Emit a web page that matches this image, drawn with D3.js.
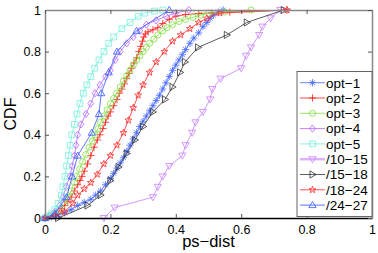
<!DOCTYPE html>
<html>
<head>
<meta charset="utf-8">
<script src="https://cdn.jsdelivr.net/npm/d3@7"></script>
<style>
  body { margin: 0; background: #fff; }
  text { font-family: "Liberation Sans", Arial, sans-serif; }
</style>
</head>
<body>
<svg id="chart" width="378" height="253"></svg>
<script>
// axis ticks
var xTicks = [0, 0.2, 0.4, 0.6, 0.8, 1];
var yTicks = [0, 0.2, 0.4, 0.6, 0.8, 1];
var seriesNames = ["opt\u22121", "opt\u22122", "opt\u22123", "opt\u22124", "opt\u22125",
                   "/10\u221215", "/15\u221218", "/18\u221224", "/24\u221227"];

// CDF points, [ps-dist, CDF]
var opt1 = [[0,0],[0.02,0.005],[0.04,0.015],[0.06,0.025],[0.08,0.04],[0.1,0.06],[0.12,0.075],[0.14,0.09],[0.155,0.11],[0.17,0.13],[0.185,0.16],[0.2,0.19],[0.21,0.215],[0.22,0.24],[0.23,0.265],[0.24,0.29],[0.25,0.32],[0.26,0.35],[0.27,0.38],[0.28,0.41],[0.29,0.44],[0.3,0.465],[0.31,0.49],[0.32,0.515],[0.33,0.54],[0.34,0.565],[0.35,0.59],[0.36,0.62],[0.37,0.65],[0.38,0.68],[0.39,0.71],[0.4,0.735],[0.41,0.76],[0.42,0.785],[0.43,0.81],[0.443,0.84],[0.455,0.865],[0.47,0.89],[0.483,0.92],[0.495,0.94],[0.505,0.96],[0.515,0.975],[0.53,0.99],[0.545,1.0]];
var opt2 = [[0,0],[0.01,0.005],[0.02,0.01],[0.03,0.02],[0.04,0.03],[0.05,0.045],[0.06,0.06],[0.07,0.08],[0.08,0.1],[0.09,0.13],[0.1,0.16],[0.107,0.18],[0.113,0.2],[0.12,0.225],[0.13,0.26],[0.14,0.3],[0.15,0.34],[0.16,0.375],[0.168,0.4],[0.177,0.43],[0.185,0.46],[0.193,0.49],[0.2,0.51],[0.21,0.54],[0.22,0.57],[0.228,0.6],[0.235,0.62],[0.243,0.645],[0.25,0.67],[0.257,0.695],[0.265,0.72],[0.272,0.745],[0.28,0.77],[0.287,0.8],[0.293,0.825],[0.298,0.85],[0.302,0.87],[0.307,0.885],[0.315,0.895],[0.33,0.905],[0.345,0.915],[0.36,0.935],[0.38,0.955],[0.4,0.97],[0.43,0.978],[0.47,0.983],[0.51,0.986],[0.565,0.99],[0.74,1.0]];
var opt3 = [[0,0],[0.015,0.01],[0.03,0.02],[0.045,0.04],[0.06,0.07],[0.07,0.1],[0.08,0.13],[0.09,0.17],[0.097,0.2],[0.106,0.235],[0.115,0.27],[0.125,0.305],[0.135,0.34],[0.145,0.37],[0.153,0.4],[0.162,0.43],[0.17,0.46],[0.18,0.49],[0.19,0.52],[0.2,0.55],[0.21,0.575],[0.219,0.6],[0.23,0.63],[0.24,0.66],[0.25,0.685],[0.26,0.71],[0.27,0.735],[0.28,0.76],[0.29,0.78],[0.3,0.8],[0.31,0.82],[0.32,0.84],[0.333,0.86],[0.345,0.88],[0.36,0.9],[0.373,0.915],[0.39,0.93],[0.41,0.945],[0.43,0.955],[0.453,0.965],[0.475,0.975],[0.5,0.985],[0.55,0.99],[0.63,1.0]];
var opt4 = [[0,0],[0.015,0.01],[0.03,0.03],[0.045,0.06],[0.055,0.1],[0.065,0.15],[0.076,0.2],[0.083,0.25],[0.09,0.3],[0.095,0.35],[0.1,0.4],[0.11,0.45],[0.125,0.5],[0.14,0.55],[0.153,0.6],[0.168,0.64],[0.185,0.68],[0.2,0.71],[0.215,0.76],[0.23,0.8],[0.25,0.84],[0.27,0.87],[0.29,0.9],[0.31,0.93],[0.34,0.95],[0.37,0.97],[0.4,0.985],[0.44,1.0]];
var opt5 = [[0,0],[0.01,0.01],[0.02,0.02],[0.03,0.04],[0.04,0.07],[0.05,0.11],[0.055,0.15],[0.061,0.2],[0.066,0.25],[0.072,0.3],[0.077,0.35],[0.082,0.4],[0.09,0.45],[0.098,0.5],[0.107,0.55],[0.117,0.6],[0.128,0.64],[0.14,0.68],[0.152,0.72],[0.165,0.76],[0.18,0.8],[0.195,0.84],[0.21,0.87],[0.235,0.91],[0.26,0.94],[0.285,0.97],[0.305,0.985],[0.335,0.995],[0.36,1.0]];
var p1015 = [[0.18,0],[0.213,0.05],[0.33,0.1],[0.345,0.15],[0.36,0.2],[0.38,0.25],[0.42,0.3],[0.43,0.35],[0.45,0.41],[0.46,0.46],[0.483,0.51],[0.505,0.57],[0.512,0.62],[0.537,0.67],[0.6,0.72],[0.615,0.78],[0.63,0.82],[0.655,0.88],[0.665,0.92],[0.69,0.96],[0.72,1.0]];
var p1518 = [[0.04,0],[0.13,0.06],[0.17,0.11],[0.2,0.18],[0.225,0.245],[0.25,0.31],[0.275,0.375],[0.3,0.44],[0.33,0.51],[0.367,0.57],[0.39,0.63],[0.413,0.7],[0.428,0.75],[0.468,0.82],[0.556,0.88],[0.617,0.94],[0.73,1.0]];
var p1824 = [[0,0],[0.03,0.01],[0.06,0.03],[0.085,0.07],[0.1,0.11],[0.12,0.14],[0.14,0.17],[0.16,0.21],[0.18,0.26],[0.2,0.3],[0.22,0.35],[0.24,0.41],[0.255,0.47],[0.27,0.53],[0.285,0.59],[0.3,0.64],[0.32,0.7],[0.34,0.75],[0.365,0.8],[0.39,0.85],[0.415,0.88],[0.443,0.91],[0.47,0.94],[0.495,0.96],[0.535,0.985],[0.74,1.0]];
var p2427 = [[0,0],[0.03,0.02],[0.066,0.1],[0.083,0.2],[0.1,0.3],[0.143,0.41],[0.165,0.5],[0.172,0.6],[0.195,0.7],[0.22,0.8],[0.28,0.9],[0.38,1.0]];

var allSeries = [opt1, opt2, opt3, opt4, opt5, p1015, p1518, p1824, p2427];
var colors = ["#4466ff", "#ff1a1a", "#80e040", "#b366ff", "#70f0dc", "#c680ff", "#333333", "#ff2a2a", "#3355ff"];
var markers = ["asterisk", "plus", "circle", "diamond", "square", "triDown", "triRight", "star", "triUp"];

// marker shapes, drawn around 0,0
function markerPath(kind, r) {
    var p = d3.path();
    if (kind == "asterisk") {
        p.moveTo(-r, 0); p.lineTo(r, 0);
        p.moveTo(0, -r); p.lineTo(0, r);
        var k = r * 0.7;
        p.moveTo(-k, -k); p.lineTo(k, k);
        p.moveTo(-k, k); p.lineTo(k, -k);
        return p.toString();
    }
    if (kind == "plus") {
        p.moveTo(-r, 0); p.lineTo(r, 0);
        p.moveTo(0, -r); p.lineTo(0, r);
        return p.toString();
    }
    if (kind == "circle") {
        p.arc(0, 0, r * 0.85, 0, 2 * Math.PI);
        return p.toString();
    }
    if (kind == "diamond") {
        p.moveTo(0, -r); p.lineTo(r * 0.8, 0); p.lineTo(0, r); p.lineTo(-r * 0.8, 0); p.closePath();
        return p.toString();
    }
    if (kind == "square") {
        var s = r * 0.8;
        p.rect(-s, -s, 2 * s, 2 * s);
        return p.toString();
    }
    if (kind == "triDown") {
        p.moveTo(-r, -r * 0.7); p.lineTo(r, -r * 0.7); p.lineTo(0, r); p.closePath();
        return p.toString();
    }
    if (kind == "triUp") {
        p.moveTo(-r, r * 0.7); p.lineTo(r, r * 0.7); p.lineTo(0, -r); p.closePath();
        return p.toString();
    }
    if (kind == "triRight") {
        p.moveTo(-r * 0.7, -r); p.lineTo(-r * 0.7, r); p.lineTo(r, 0); p.closePath();
        return p.toString();
    }
    // star
    for (var i = 0; i < 10; i++) {
        var a = -Math.PI / 2 + i * Math.PI / 5;
        var rr = i % 2 == 0 ? r : r * 0.42;
        if (i == 0) p.moveTo(rr * Math.cos(a), rr * Math.sin(a));
        else p.lineTo(rr * Math.cos(a), rr * Math.sin(a));
    }
    p.closePath();
    return p.toString();
}

var svg = d3.select("#chart");
var plotL = 45, plotR = 372, plotT = 10, plotB = 218;

var x = d3.scaleLinear().domain([0, 1]).range([plotL, plotR]);
var y = d3.scaleLinear().domain([0, 1]).range([plotB, plotT]);

// curves
var line = d3.line().x(function(d) { return x(d[0]); }).y(function(d) { return y(d[1]); });
var plot = svg.append("g");
allSeries.forEach(function(data, i) {
    var g = plot.append("g");
    g.append("path")
        .attr("d", line(data))
        .attr("fill", "none")
        .attr("stroke", colors[i])
        .attr("stroke-width", 0.8);
    g.selectAll(".mk")
        .data(data)
        .enter().append("path")
        .attr("class", "mk")
        .attr("transform", function(d) { return "translate(" + x(d[0]) + "," + y(d[1]) + ")"; })
        .attr("d", markerPath(markers[i], 3.6))
        .attr("fill", "none")
        .attr("stroke", colors[i])
        .attr("stroke-width", 0.8);
});

// axes, matlab style box with inward ticks
var fmt = function(d) { return d3.format("")(d); };
var xAxis = svg.append("g").attr("transform", "translate(0," + plotB + ")")
    .call(d3.axisBottom(x).tickValues(xTicks).tickSizeInner(-4).tickSizeOuter(0).tickPadding(7).tickFormat(fmt));
var yAxis = svg.append("g").attr("transform", "translate(" + plotL + ",0)")
    .call(d3.axisLeft(y).tickValues(yTicks).tickSizeInner(-4).tickSizeOuter(0).tickPadding(4).tickFormat(fmt));
var xTop = svg.append("g").attr("transform", "translate(0," + plotT + ")")
    .call(d3.axisTop(x).tickValues(xTicks).tickSizeInner(-4).tickSizeOuter(0).tickFormat(""));
var yRight = svg.append("g").attr("transform", "translate(" + plotR + ",0)")
    .call(d3.axisRight(y).tickValues(yTicks).tickSizeInner(-4).tickSizeOuter(0).tickFormat(""));

[xAxis, yAxis, xTop, yRight].forEach(function(a) {
    a.selectAll("text").attr("font-size", 12.5).attr("fill", "#000")
        .style("font-family", "'Liberation Sans', Arial, sans-serif");
    a.selectAll(".tick line").attr("stroke", "#555");
});
yAxis.select(".domain").attr("stroke", "#888").attr("stroke-width", 1.5);
xTop.select(".domain").attr("stroke", "#888").attr("stroke-width", 1.5);
yRight.select(".domain").attr("stroke", "#888").attr("stroke-width", 1.5);
xAxis.select(".domain").attr("stroke", "#000").attr("stroke-width", 1.5);

// axis titles
svg.append("text")
    .attr("x", (plotL + plotR) / 2)
    .attr("y", 247)
    .attr("text-anchor", "middle")
    .attr("font-size", 16.5)
    .text("ps\u2212dist");
svg.append("text")
    .attr("transform", "translate(16,114) rotate(-90)")
    .attr("text-anchor", "middle")
    .attr("font-size", 16)
    .text("CDF");

// legend
var lg = svg.append("g");
lg.append("rect")
    .attr("x", 297).attr("y", 71.5)
    .attr("width", 75).attr("height", 145)
    .attr("fill", "#fff")
    .attr("stroke", "#666")
    .attr("stroke-width", 1);
seriesNames.forEach(function(name, i) {
    var ly = 82.7 + i * 15.3;
    lg.append("line")
        .attr("x1", 300).attr("x2", 325)
        .attr("y1", ly).attr("y2", ly)
        .attr("stroke", colors[i])
        .attr("stroke-width", i == 5 ? 2.5 : 0.8)
        .attr("stroke-opacity", i == 5 ? 0.6 : 1);
    lg.append("path")
        .attr("transform", "translate(312.5," + ly + ")")
        .attr("d", markerPath(markers[i], 3.6))
        .attr("fill", "none")
        .attr("stroke", colors[i])
        .attr("stroke-width", 0.8);
    lg.append("text")
        .attr("x", 326)
        .attr("y", ly + 4.8)
        .attr("font-size", 13.5)
        .text(name);
});
</script>
</body>
</html>
